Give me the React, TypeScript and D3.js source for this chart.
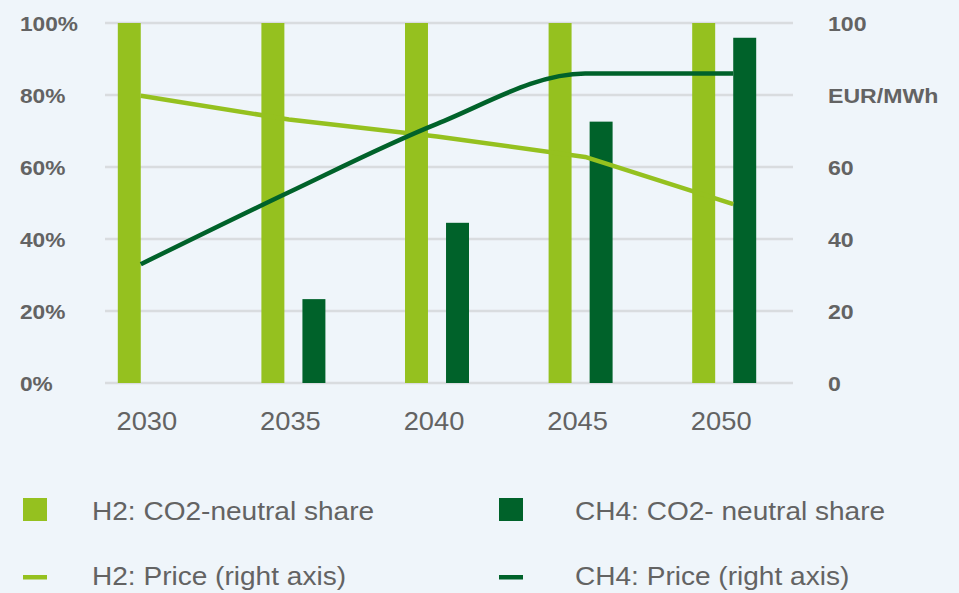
import React from "react";
import * as d3 from "d3";

const years = ["2030", "2035", "2040", "2045", "2050"];
const h2Share = [100, 100, 100, 100, 100];
const ch4Share = [0, 23.3, 44.5, 72.6, 95.9];
const h2Price = [79.8, 73.2, 68.5, 62.8, 49.7];
const ch4Price = [33, 53, 72, 86, 86];
const leftTicks = [0, 20, 40, 60, 80, 100];
const rightTickLabels = ["0", "20", "40", "60", "EUR/MWh", "100"];
const seriesKeys = ["H2", "CH4"];
const legendItems = [
  { label: "H2: CO2-neutral share", kind: "bar", key: "H2" },
  { label: "CH4: CO2- neutral share", kind: "bar", key: "CH4" },
  { label: "H2: Price (right axis)", kind: "line", key: "H2" },
  { label: "CH4: Price (right axis)", kind: "line", key: "CH4" },
];

const W = 959;
const H = 593;
const BG = "#eff5fa";
const LIGHT = "#95c11f";
const DARK = "#00622a";
const TEXT = "#636363";
const FONT = "'Liberation Sans', Arial, Helvetica, sans-serif";

export default function App() {
  const x = d3.scaleBand().domain(years).range([78, 796]).paddingInner(0).paddingOuter(0);
  const xInner = d3.scaleBand().domain(seriesKeys).range([-32, 32]).paddingInner(0.44).paddingOuter(0);
  const y = d3.scaleLinear().domain([0, 100]).range([383, 23]);
  const colors: Record<string, string> = { H2: LIGHT, CH4: DARK };

  const c = (yr: string) => (x(yr) as number) + x.bandwidth() / 2;
  const bw = xInner.bandwidth();
  const xl = d3
    .scaleLinear()
    .domain([+years[0], +years[years.length - 1]])
    .range([
      c(years[0]) + (xInner("H2") as number) + bw,
      c(years[years.length - 1]) + (xInner("CH4") as number),
    ]);

  const lineH2 = d3
    .line<number>()
    .x((_, i) => xl(+years[i]))
    .y((d) => y(d))
    .curve(d3.curveLinear);
  const lineCH4 = d3
    .line<number>()
    .x((_, i) => xl(+years[i]))
    .y((d) => y(d))
    .curve(d3.curveMonotoneX);

  const gridX0 = 105;
  const gridX1 = 793;

  return (
    <div style={{ position: "fixed", left: 0, top: 0, width: W, height: H, background: BG }}>
      <svg width={W} height={H} style={{ display: "block", fontFamily: FONT }}>
        <rect x={0} y={0} width={W} height={H} fill={BG} />
        {leftTicks.map((t) => (
          <line
            key={"g" + t}
            x1={gridX0}
            x2={gridX1}
            y1={y(t)}
            y2={y(t)}
            stroke="#d9dcdf"
            strokeWidth={2.5}
          />
        ))}
        {leftTicks.map((t) => (
          <text
            key={"l" + t}
            transform={`translate(20,${y(t) + 7.5}) scale(1.08,1)`}
            fontSize={21}
            fontWeight="bold"
            fill={TEXT}
          >
            {t + "%"}
          </text>
        ))}
        {leftTicks.map((t, i) => (
          <text
            key={"r" + t}
            transform={`translate(828,${y(t) + 7.5}) scale(1.1,1)`}
            fontSize={21}
            fontWeight="bold"
            fill={TEXT}
          >
            {rightTickLabels[i]}
          </text>
        ))}
        {years.map((yr, i) => (
          <g key={"b" + yr}>
            {h2Share[i] > 0 && (
              <rect
                x={c(yr) + (xInner("H2") as number)}
                y={y(h2Share[i])}
                width={bw}
                height={y(0) - y(h2Share[i])}
                fill={LIGHT}
              />
            )}
            {ch4Share[i] > 0 && (
              <rect
                x={c(yr) + (xInner("CH4") as number)}
                y={y(ch4Share[i])}
                width={bw}
                height={y(0) - y(ch4Share[i])}
                fill={DARK}
              />
            )}
          </g>
        ))}
        <path d={lineH2(h2Price) || ""} fill="none" stroke={LIGHT} strokeWidth={4.5} strokeLinejoin="round" />
        <path d={lineCH4(ch4Price) || ""} fill="none" stroke={DARK} strokeWidth={4.5} strokeLinejoin="round" />
        {years.map((yr) => (
          <text
            key={"x" + yr}
            transform={`translate(${c(yr) - 3},430) scale(1.05,1)`}
            fontSize={26}
            textAnchor="middle"
            fill={TEXT}
          >
            {yr}
          </text>
        ))}
        {legendItems.map((it, i) => {
          const col = i % 2;
          const row = Math.floor(i / 2);
          const mx = col === 0 ? 23 : 499;
          const tx = col === 0 ? 92 : 575;
          const base = row === 0 ? 520 : 585;
          return (
            <g key={"lg" + i}>
              {it.kind === "bar" ? (
                <rect x={mx} y={498} width={24} height={23} fill={colors[it.key]} />
              ) : (
                <rect x={mx} y={575} width={24} height={4.5} fill={colors[it.key]} />
              )}
              <text transform={`translate(${tx},${base}) scale(1.1,1)`} fontSize={25.5} fill={TEXT}>
                {it.label}
              </text>
            </g>
          );
        })}
      </svg>
    </div>
  );
}
